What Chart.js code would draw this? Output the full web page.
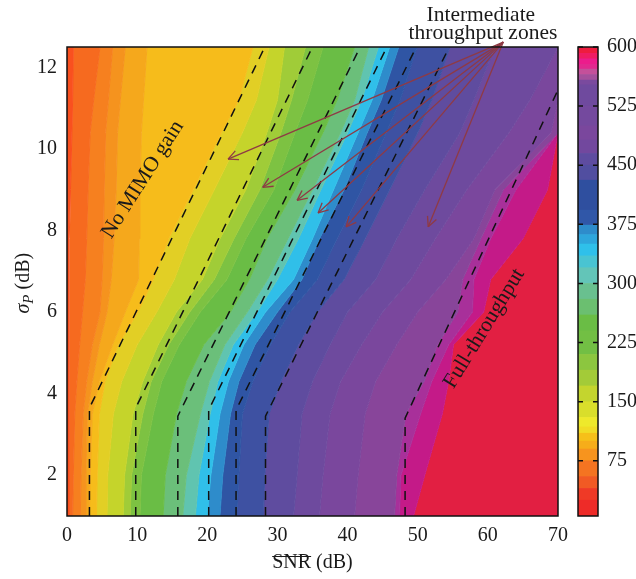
<!DOCTYPE html>
<html>
<head>
<meta charset="utf-8">
<script src="https://cdn.jsdelivr.net/npm/chart.js@4"></script>
<style>
    html, body { margin: 0; background: #fff; }
    canvas { position: absolute; left: 0; top: 0; }
</style>
</head>
<body>
<canvas id="mapChart" width="636" height="579"></canvas>
<canvas id="barChart" width="636" height="579"></canvas>
<script>
// sigma_P rows the contour edges were read on
var sigmaRows = [1, 2, 3.5, 4.3, 5.2, 6, 6.8, 7.8, 9, 10.4, 11.2, 12.5];

// SNR position of each colour edge, one value per sigma row, left to right
var edgeLeft      = [0, 0, 0, 0, 0, 0, 0, 0, 0, 0, 0, 0];
var edgeRedOrange = [0.3, 0.3, 0.3, 0.3, 0.3, 0.3, 0.3, 0.4, 0.5, 0.7, 0.8, 0.9];
var edgeOrange1   = [0.8, 0.9, 1.1, 1.4, 1.8, 2.2, 2.6, 2.8, 3.0, 3.3, 3.8, 4.7];
var edgeOrange2   = [1.9, 2.0, 2.3, 2.8, 3.6, 4.7, 5.0, 5.2, 5.3, 5.5, 5.9, 6.5];
var edgeOrange3   = [2.6, 2.7, 2.9, 3.6, 4.6, 5.7, 6.3, 6.7, 7.0, 7.2, 7.6, 8.3];
var edgeAmber     = [3.2, 3.3, 3.6, 4.6, 6.5, 8.3, 10.2, 10.3, 10.4, 10.6, 10.9, 11.4];
var edgeYellow    = [4.2, 4.3, 4.6, 5.4, 7.3, 10.1, 12.3, 14.5, 18, 22, 24.5, 26.5];
var edgeDullYel   = [5.7, 5.8, 6.6, 7.8, 10, 12.8, 15.3, 17.5, 21, 25, 27, 28.8];
var edgeLime1     = [8, 8.2, 9.4, 10.8, 13, 15.6, 19.3, 21.8, 25.5, 28.5, 30, 31];
var edgeLime2     = [9, 9.2, 10.8, 12, 14.5, 17.5, 21, 23.8, 27.5, 30.5, 32, 34];
var edgeLime3     = [10.4, 10.6, 12.3, 13.5, 16, 19, 22.8, 25.5, 29.5, 32.5, 34.3, 36.5];
var edgeGreen     = [13.7, 14, 15.6, 17, 19.5, 23.3, 26, 28.5, 32.5, 36.5, 38.5, 41];
var edgeSea       = [16.5, 17, 19, 20.3, 22.5, 25.7, 28.6, 31.5, 35, 39, 41, 43];
var edgeTeal      = [18.3, 18.8, 20.4, 21.5, 23.7, 27.1, 30, 33, 36.2, 40, 42, 44.4];
var edgeCyan      = [20, 20.5, 21.8, 23, 25.2, 28.3, 32.3, 35, 38, 41.5, 43.5, 46];
var edgeSky       = [21.8, 22.2, 23.3, 24.5, 26.8, 30, 33.5, 36, 39.5, 42.8, 44.8, 47.3];
var edgeBlue      = [24.2, 24.5, 25, 26.5, 29, 31.8, 35.7, 38.5, 42, 45.5, 47.5, 49.9];
var edgeIndigo    = [28, 28.2, 28.8, 30.5, 33, 35.7, 39.5, 42.5, 46, 50, 52, 54.6];
var edgeViolet1   = [32.3, 32.8, 33.5, 35, 37.5, 40, 44, 47, 51, 56, 58, 61];
var edgeViolet2   = [36, 36.5, 37.5, 39, 42, 45, 49, 52.5, 57, 63, 66, 70];
var edgePurple1   = [41, 41.5, 42.5, 44, 47, 50, 54, 58, 61, 69, 70, 70];
var edgePurple2   = [46.7, 47, 48.3, 50.9, 52.8, 55.7, 56.4, 59, 62.2, 70, 70, 70];
var edgePink      = [47.4, 47.6, 50.4, 52, 54.4, 57.8, 58, 60.4, 64, 70, 70, 70];
var edgeMagenta   = [49.4, 51, 53.5, 54.4, 55.1, 59.4, 60.4, 65, 68.5, 70, 70, 70];
var edgeRight     = [70, 70, 70, 70, 70, 70, 70, 70, 70, 70, 70, 70];

var mapEdges = [edgeLeft, edgeRedOrange, edgeOrange1, edgeOrange2, edgeOrange3, edgeAmber,
    edgeYellow, edgeDullYel, edgeLime1, edgeLime2, edgeLime3, edgeGreen, edgeSea, edgeTeal,
    edgeCyan, edgeSky, edgeBlue, edgeIndigo, edgeViolet1, edgeViolet2, edgePurple1,
    edgePurple2, edgePink, edgeMagenta, edgeRight];
var mapColors = [null, "#f9501f", "#f66a1f", "#f6801f", "#f5931e", "#f5a81c", "#f6bc1b",
    "#e2cf25", "#c5d42b", "#a0cc38", "#7dc242", "#6abd45", "#6bbf7a", "#60c4b0", "#30bfe9",
    "#2e8ccb", "#2f55a4", "#3e51a2", "#5f4c9f", "#6e4a9e", "#7a479d", "#88459a", "#a8309a",
    "#c41a88", "#e21f42"];

// dashed zone borders
var zoneSnr = [
    [3.2, 3.2, 28.2],
    [9.8, 9.8, 35],
    [15.8, 15.8, 41.8],
    [20.2, 20.2, 45.6],
    [24.1, 24.1, 49.8],
    [28.3, 28.3, 54.5],
    [48.2, 48.2, 70]
];
var zoneSigma = [
    [1, 3.65, 12.5],
    [1, 3.65, 12.5],
    [1, 3.45, 12.5],
    [1, 3.6, 12.5],
    [1, 3.6, 12.5],
    [1, 3.45, 12.5],
    [1, 3.4, 11.45]
];

// arrows all leave the same point above the frame
var arrowFromSnr = 62.2;
var arrowFromSigma = 12.62;
var arrowTipSnr = [22.96, 27.9, 32.8, 35.8, 39.8, 51.5];
var arrowTipSigma = [9.75, 9.06, 8.74, 8.43, 8.09, 8.09];

var snrTicks = [0, 10, 20, 30, 40, 50, 60, 70];
var sigmaTicks = [2, 4, 6, 8, 10, 12];

// colour bar, each colour runs from its level up to the next one
var barTicks = [75, 150, 225, 300, 375, 450, 525, 600];
var barLevels = [5, 25, 40, 55, 75, 90, 100, 110, 118, 130, 150, 170, 190, 210, 240, 260, 280,
    300, 320, 335, 350, 362, 374, 393, 431, 450, 465, 482, 500, 525, 545, 552, 558, 565, 572,
    578, 585, 592, 600];
var barColors = ["#ee2b28", "#ef3a26", "#f15a24", "#f47421", "#f7941e", "#f6ad1a", "#f6c019",
    "#f1dc25", "#eee92b", "#d9de2b", "#c4d52e", "#a3cb38", "#8cc63f", "#72bf44", "#6abd45",
    "#6bbf70", "#69c08f", "#63c5b8", "#49c4d2", "#2fc0ea", "#2ea6dc", "#2e8ccb", "#3057a8",
    "#2f4f9f", "#514ea0", "#5e4ca0", "#72489e", "#7a479d", "#74499e", "#6f4a9e", "#6f4a9e",
    "#7a4a9e", "#a4509c", "#c4509a", "#e2288f", "#ec1c8c", "#ef1c63", "#ee1c3f"];

var notes = [
    { text: "No MIMO gain", snr: 10.8, sigma: 9.25, angle: -57.6 },
    { text: "Full-throughput", snr: 59.5, sigma: 5.6, angle: -58.5 },
    { text: "Intermediate", snr: 59, sigma: 13.28, angle: 0 },
    { text: "throughput zones", snr: 59.3, sigma: 12.84, angle: 0 }
];

var serif = "'Liberation Serif', serif";
var inkColor = "#1a1a1a";
var arrowColor = "#8f3a44";

function useTicks(values) {
    return function(scale) {
        scale.ticks = values.map(function(v) { return { value: v }; });
    };
}

var datasets = mapEdges.map(function(edge, i) {
    return {
        data: edge.map(function(v, r) { return { x: v, y: sigmaRows[r] }; }),
        fill: i === 0 ? false : "-1",
        backgroundColor: mapColors[i] || "transparent",
        borderColor: mapColors[i] || "transparent",
        borderWidth: 1,
        pointRadius: 0,
        order: 10
    };
});

zoneSnr.forEach(function(line, i) {
    datasets.push({
        data: line.map(function(v, r) { return { x: v, y: zoneSigma[i][r] }; }),
        fill: false,
        borderColor: "#111",
        borderWidth: 1.5,
        borderDash: [9, 7],
        pointRadius: 0,
        order: 2
    });
});

arrowTipSnr.forEach(function(tip, i) {
    datasets.push({
        data: [{ x: tip, y: arrowTipSigma[i] }, { x: arrowFromSnr, y: arrowFromSigma }],
        fill: false,
        borderColor: arrowColor,
        borderWidth: 1.3,
        pointRadius: 0,
        clip: false,
        order: 1
    });
});

var mapDecor = {
    id: "mapDecor",
    afterDatasetsDraw: function(chart) {
        var ctx = chart.ctx, a = chart.chartArea, xs = chart.scales.x, ys = chart.scales.y;
        ctx.save();

        // frame
        ctx.strokeStyle = "#111";
        ctx.lineWidth = 1.5;
        ctx.strokeRect(a.left, a.top, a.right - a.left, a.bottom - a.top);

        // open arrow heads
        ctx.strokeStyle = arrowColor;
        ctx.lineWidth = 1.3;
        var fromX = xs.getPixelForValue(arrowFromSnr), fromY = ys.getPixelForValue(arrowFromSigma);
        arrowTipSnr.forEach(function(tip, i) {
            var x = xs.getPixelForValue(tip), y = ys.getPixelForValue(arrowTipSigma[i]);
            var dir = Math.atan2(fromY - y, fromX - x);
            [-0.45, 0.45].forEach(function(d) {
                ctx.beginPath();
                ctx.moveTo(x, y);
                ctx.lineTo(x + 11 * Math.cos(dir + d), y + 11 * Math.sin(dir + d));
                ctx.stroke();
            });
        });

        // notes in the plot
        ctx.fillStyle = inkColor;
        ctx.textAlign = "center";
        ctx.textBaseline = "middle";
        ctx.font = "21.5px " + serif;
        notes.forEach(function(n) {
            ctx.save();
            ctx.translate(xs.getPixelForValue(n.snr), ys.getPixelForValue(n.sigma));
            ctx.rotate(n.angle * Math.PI / 180);
            ctx.fillText(n.text, 0, 0);
            ctx.restore();
        });

        // y title has a subscript so it is put together here
        ctx.save();
        ctx.translate(23, (a.top + a.bottom) / 2);
        ctx.rotate(-Math.PI / 2);
        ctx.textAlign = "left";
        ctx.textBaseline = "alphabetic";
        var x = -32;
        ctx.font = "italic 20px " + serif;
        ctx.fillText("\u03c3", x, 6);
        x += ctx.measureText("\u03c3").width;
        ctx.font = "italic 15px " + serif;
        ctx.fillText("P", x, 10);
        x += ctx.measureText("P").width + 5;
        ctx.font = "20px " + serif;
        ctx.fillText("(dB)", x, 6);
        ctx.restore();

        // bar over SNR in the x title
        ctx.font = "20px " + serif;
        var w = ctx.measureText("SNR (dB)").width, s = ctx.measureText("SNR").width;
        var mid = (a.left + a.right) / 2;
        ctx.strokeStyle = inkColor;
        ctx.lineWidth = 1;
        ctx.beginPath();
        ctx.moveTo(mid - w / 2, 556.5);
        ctx.lineTo(mid - w / 2 + s, 556.5);
        ctx.stroke();
        ctx.restore();
    }
};

new Chart(document.getElementById("mapChart"), {
    type: "line",
    data: { datasets: datasets },
    plugins: [mapDecor],
    options: {
        responsive: false,
        animation: false,
        indexAxis: "y",
        layout: { padding: { top: 47, right: 78, bottom: 4, left: 0 } },
        plugins: { legend: { display: false }, tooltip: { enabled: false } },
        elements: { line: { tension: 0 } },
        scales: {
            x: {
                type: "linear",
                min: 0,
                max: 70,
                grid: { display: false, drawTicks: false },
                border: { display: false },
                afterBuildTicks: useTicks(snrTicks),
                afterFit: function(scale) { scale.height = 59; },
                ticks: {
                    maxRotation: 0,
                    autoSkip: false,
                    padding: 8,
                    color: inkColor,
                    font: { family: serif, size: 20 }
                },
                title: {
                    display: true,
                    text: "SNR (dB)",
                    color: inkColor,
                    padding: 0,
                    font: { family: serif, size: 20 }
                }
            },
            y: {
                type: "linear",
                min: 1,
                max: 12.5,
                grid: { display: false, drawTicks: false },
                border: { display: false },
                afterBuildTicks: useTicks(sigmaTicks),
                afterFit: function(scale) { scale.width = 67; },
                ticks: {
                    autoSkip: false,
                    padding: 10,
                    color: inkColor,
                    font: { family: serif, size: 20 }
                }
            }
        }
    }
});

var barDecor = {
    id: "barDecor",
    afterDatasetsDraw: function(chart) {
        var ctx = chart.ctx, a = chart.chartArea, ys = chart.scales.y;
        ctx.save();
        ctx.strokeStyle = "#111";
        ctx.lineWidth = 1.5;
        barTicks.forEach(function(v) {
            var y = ys.getPixelForValue(v);
            ctx.beginPath();
            ctx.moveTo(a.left, y);
            ctx.lineTo(a.left + 5, y);
            ctx.moveTo(a.right - 5, y);
            ctx.lineTo(a.right, y);
            ctx.stroke();
        });
        ctx.strokeRect(a.left, a.top, a.right - a.left, a.bottom - a.top);
        ctx.restore();
    }
};

new Chart(document.getElementById("barChart"), {
    type: "bar",
    data: {
        labels: ["throughput"],
        datasets: barColors.map(function(color, i) {
            return {
                data: [[barLevels[i], barLevels[i + 1]]],
                backgroundColor: color,
                borderWidth: 0
            };
        })
    },
    plugins: [barDecor],
    options: {
        responsive: false,
        animation: false,
        layout: { padding: { top: 47, right: 0, bottom: 63, left: 578 } },
        plugins: { legend: { display: false }, tooltip: { enabled: false } },
        datasets: { bar: { grouped: false, barPercentage: 1, categoryPercentage: 1 } },
        scales: {
            x: { display: false },
            y: {
                position: "right",
                min: 5,
                max: 600,
                grid: { display: false, drawTicks: false },
                border: { display: false },
                afterBuildTicks: useTicks(barTicks),
                afterFit: function(scale) { scale.width = 38; },
                ticks: {
                    autoSkip: false,
                    padding: 9,
                    color: inkColor,
                    font: { family: serif, size: 20 }
                }
            }
        }
    }
});
</script>
</body>
</html>
